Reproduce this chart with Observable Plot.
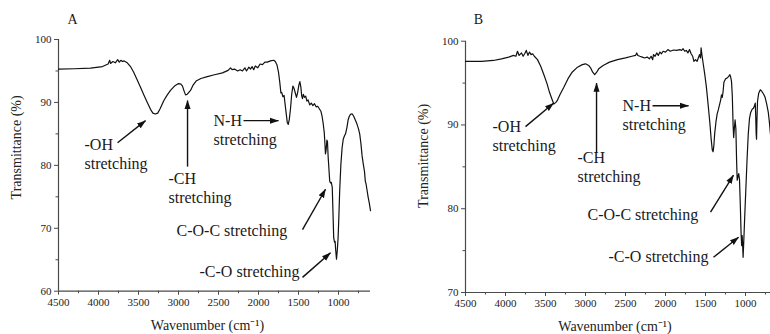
<!DOCTYPE html>
<html>
<head>
<meta charset="utf-8">
<script src="https://cdn.jsdelivr.net/npm/d3@7"></script>
<script src="https://cdn.jsdelivr.net/npm/@observablehq/plot@0.6"></script>
<style>
  html, body { margin: 0; padding: 0; background: #fff; }
  #wrap { display: flex; width: 770px; height: 334px; overflow: hidden; }
  #wrap svg { display: block; font-family: "Liberation Serif", "Times New Roman", Times, serif !important; }
  #wrap svg text { font-family: "Liberation Serif", "Times New Roman", Times, serif !important; }
</style>
</head>
<body>
<div id="wrap"></div>
<script>
// ---------- data ----------
const panelLetters = ["A", "B"];
const xMajorTicks = [4500, 4000, 3500, 3000, 2500, 2000, 1500, 1000];
const xMinorTicks = [4250, 3750, 3250, 2750, 2250, 1750, 1250, 750];
const yMajorTicksA = [60, 70, 80, 90, 100];
const yMinorTicksA = [65, 75, 85, 95];
const yMajorTicksB = [70, 80, 90, 100];
const yMinorTicksB = [75, 85, 95];
const xAxisTitle = "Wavenumber (cm\u207B\u00B9)";
const yAxisTitle = "Transmittance (%)";

const wavenumberA = [4500,4300,4100,3950,3880,3860,3850,3820,3790,3760,3740,3720,3700,3680,3640,3600,3560,3520,3475,3430,3390,3350,3320,3290,3260,3230,3183,3140,3100,3050,3000,2970,2950,2930,2912,2890,2871,2850,2820,2780,2720,2640,2550,2450,2380,2350,2330,2300,2260,2230,2200,2170,2150,2120,2100,2080,2060,2040,2010,1980,1950,1920,1890,1850,1810,1790,1770,1750,1735,1720,1710,1695,1680,1660,1640,1628,1615,1600,1585,1570,1555,1540,1525,1510,1495,1483,1470,1460,1450,1440,1425,1410,1395,1380,1360,1340,1320,1300,1280,1260,1240,1220,1205,1190,1178,1170,1163,1155,1145,1138,1130,1120,1110,1100,1090,1078,1070,1060,1050,1042,1035,1025,1015,1005,995,985,970,955,940,925,912,895,880,865,850,830,810,790,770,750,735,720,705,690,675,665,655,645,630,615,600];
const transmittanceA = [95.3,95.35,95.45,95.7,96.1,96.7,96.2,96.5,96.3,96.8,96.4,96.7,96.5,96.6,96.3,95.7,94.8,93.7,92.4,91.1,90.0,88.9,88.3,88.15,88.3,89.0,90.3,91.2,91.9,92.6,93.0,92.9,92.6,91.8,91.2,91.3,91.6,91.9,92.7,93.4,93.8,94.1,94.4,94.7,95.1,95.5,95.2,95.3,95.0,95.2,95.0,95.5,95.0,95.6,95.3,95.7,95.2,95.8,95.5,96.1,96.0,96.4,96.4,96.6,96.7,96.5,96.0,94.8,93.3,91.5,91.6,90.9,91.1,88.9,86.8,86.5,87.3,89.0,91.3,92.6,92.2,91.5,90.8,91.6,92.8,93.3,92.4,91.0,90.6,91.3,90.8,91.0,90.2,90.4,89.6,89.9,89.5,89.8,89.3,89.4,89.0,88.6,87.8,86.5,85.2,83.5,81.8,82.4,84.0,83.8,81.5,79.5,77.5,77.2,77.3,76.5,73.0,68.5,67.8,67.9,66.5,65.1,66.5,68.5,72.0,76.0,80.2,82.8,84.2,84.7,85.0,86.0,87.2,87.8,88.1,88.2,87.8,87.2,86.6,85.8,85.0,83.5,81.5,80.2,79.0,77.5,77.0,76.2,75.0,74.0,72.8];

const wavenumberB = [4500,4300,4150,4050,3960,3900,3870,3850,3830,3800,3780,3760,3740,3720,3700,3680,3660,3640,3600,3560,3520,3480,3450,3420,3396,3370,3354,3320,3271,3220,3167,3100,3040,3000,2960,2935,2910,2885,2860,2835,2780,2700,2600,2500,2420,2375,2360,2345,2320,2290,2260,2230,2200,2180,2160,2150,2130,2110,2090,2070,2050,2030,2000,1970,1940,1900,1860,1820,1800,1780,1760,1740,1720,1700,1680,1660,1645,1625,1605,1590,1575,1562,1555,1545,1530,1510,1490,1475,1460,1445,1430,1415,1405,1395,1385,1370,1355,1340,1325,1310,1300,1290,1280,1270,1250,1230,1210,1195,1185,1175,1165,1155,1148,1140,1130,1120,1112,1104,1095,1085,1075,1065,1055,1048,1042,1036,1030,1022,1010,995,980,965,950,935,915,900,888,878,872,867,862,857,850,835,815,795,775,755,735,715,700,688];
const transmittanceB = [97.6,97.6,97.7,97.9,98.1,98.3,98.2,98.8,98.3,98.6,98.2,98.5,98.9,98.3,98.7,98.4,98.5,98.2,97.8,97.0,96.0,94.9,93.9,93.1,92.5,92.7,92.9,93.6,94.5,95.5,96.3,96.9,97.2,97.3,97.1,96.8,96.3,96.0,96.3,96.7,97.1,97.5,97.8,98.0,98.2,98.3,98.6,98.3,98.2,98.1,98.0,98.1,97.9,98.2,97.8,98.4,98.2,98.6,98.3,98.7,98.5,98.8,98.7,99.0,98.8,98.95,98.9,99.0,98.9,99.1,98.8,98.9,98.6,99.0,98.5,98.2,97.6,97.8,97.6,98.0,98.4,98.0,99.2,98.4,97.4,96.1,94.6,93.2,91.7,90.2,88.4,87.0,86.8,87.6,89.0,90.3,91.3,91.8,92.4,93.0,93.6,93.3,94.0,95.1,95.5,95.6,95.8,96.0,95.7,95.2,93.5,90.0,88.5,89.5,90.6,89.5,86.0,83.4,83.8,84.2,83.5,80.5,77.0,75.6,76.8,75.8,74.2,76.0,79.0,82.5,86.0,89.0,90.8,91.5,91.9,92.0,92.3,92.6,91.0,89.0,88.3,90.5,92.8,93.8,94.2,94.0,93.7,93.3,92.5,91.5,90.2,88.9];

// annotation labels (wavenumber, transmittance of the top-left of each label)
const noteTextA = ["-OH\nstretching", "-CH\nstretching", "N-H\nstretching", "C-O-C stretching", "-C-O stretching"];
const noteXA = [4175, 3125, 2562, 3025, 2737];
const noteYA = [84.7, 79.3, 88.5, 70.9, 64.4];
const arrowX1A = [3762, 2887, 2187, 1450, 1450];
const arrowY1A = [83.6, 79.8, 87.1, 69.8, 62.2];
const arrowX2A = [3412, 2887, 1750, 1162, 1100];
const arrowY2A = [87.1, 90.3, 87.1, 76.2, 66.1];

const noteTextB = ["-OH\nstretching", "-CH\nstretching", "N-H\nstretching", "C-O-C stretching", "-C-O stretching"];
const noteXB = [4162, 3100, 2537, 2975, 2712];
const noteYB = [90.85, 87.15, 93.35, 80.25, 75.25];
const arrowX1B = [3750, 2862, 2162, 1437, 1400];
const arrowY1B = [89.8, 86.7, 92.3, 79.6, 74.2];
const arrowX2B = [3400, 2862, 1712, 1150, 1087];
const arrowY2B = [92.6, 95.0, 92.3, 84.0, 76.6];

// ---------- drawing ----------
const FONT = "Liberation Serif";
const AXIS = "#4a4a4a";

function filledArrow(color, ctx) {
  const doc = ctx && ctx.document ? ctx.document : (ctx && ctx.createElementNS ? ctx : document);
  const ns = "http://www.w3.org/2000/svg";
  const m = doc.createElementNS(ns, "marker");
  m.setAttribute("viewBox", "-5 -5 10 10");
  m.setAttribute("markerUnits", "userSpaceOnUse");
  m.setAttribute("markerWidth", 9);
  m.setAttribute("markerHeight", 9);
  m.setAttribute("refX", 4.5);
  m.setAttribute("refY", 0);
  m.setAttribute("orient", "auto");
  const p = doc.createElementNS(ns, "path");
  p.setAttribute("d", "M-5,-3.4L5,0L-5,3.4Z");
  p.setAttribute("fill", color);
  p.setAttribute("stroke", "none");
  m.appendChild(p);
  return m;
}

function arrowMark(data) {
  try {
    return Plot.link(data, {x1: "x1", y1: "y1", x2: "x2", y2: "y2", stroke: "#111", strokeWidth: 1.4, markerEnd: filledArrow});
  } catch (e) {
    return Plot.arrow(data, {x1: "x1", y1: "y1", x2: "x2", y2: "y2", stroke: "#111", strokeWidth: 1.6, headLength: 8, headAngle: 50});
  }
}

const fmt = d => String(d);

function panel(o) {
  const spectrum = o.wn.map((w, i) => ({w, t: o.tr[i]}));
  const notes = o.noteText.map((text, i) => ({text, x: o.noteX[i], y: o.noteY[i]}));
  const arrows = o.ax1.map((x1, i) => ({x1, y1: o.ay1[i], x2: o.ax2[i], y2: o.ay2[i]}));
  return Plot.plot({
    width: 385,
    height: 334,
    marginLeft: o.marginLeft,
    marginRight: o.marginRight,
    marginTop: o.marginTop,
    marginBottom: o.marginBottom,
    style: {fontFamily: FONT, fontSize: "11px", background: "#fff", color: "#222", overflow: "visible"},
    x: {domain: o.xDomain},
    y: {domain: o.yDomain},
    marks: [
      Plot.axisX(xMajorTicks, {tickSize: 4, tickPadding: 3, tickFormat: fmt, stroke: AXIS, fill: "#222", fontSize: 11, fontFamily: FONT, label: null}),
      Plot.axisX(xMinorTicks, {tickSize: 2.5, tickFormat: () => "", stroke: AXIS, label: null}),
      Plot.axisY(o.yMajor, {tickSize: 4, tickPadding: 3, tickFormat: fmt, stroke: AXIS, fill: "#222", fontSize: 11, fontFamily: FONT, label: null}),
      Plot.axisY(o.yMinor, {tickSize: 2.5, tickFormat: () => "", stroke: AXIS, label: null}),
      Plot.ruleX([o.xDomain[0]], {stroke: AXIS, strokeWidth: 1.2}),
      Plot.ruleY([o.yDomain[0]], {stroke: AXIS, strokeWidth: 1.2}),
      Plot.line(spectrum, {x: "w", y: "t", stroke: "#111", strokeWidth: 1.2, curve: "linear"}),
      Plot.text(notes, {x: "x", y: "y", text: "text", textAnchor: "start", lineAnchor: "top", fontSize: 16, lineHeight: 1.22, fontFamily: FONT, fill: "#1a1a1a"}),
      arrowMark(arrows),
      Plot.text([o.letter], {frameAnchor: "top-left", dx: o.letterDx, dy: o.letterDy, fontSize: 14, fontFamily: FONT, textAnchor: "middle", lineAnchor: "middle", fill: "#1a1a1a"}),
      Plot.text([xAxisTitle], {frameAnchor: "bottom", dx: o.xlabDx, dy: 34, fontSize: 14, fontFamily: FONT, lineAnchor: "middle", fill: "#222"}),
      Plot.text([yAxisTitle], {frameAnchor: "left", dx: o.ylabDx, dy: o.ylabDy, rotate: -90, fontSize: 14, fontFamily: FONT, lineAnchor: "middle", textAnchor: "middle", fill: "#222"})
    ]
  });
}

const wrap = document.getElementById("wrap");
wrap.appendChild(panel({
  wn: wavenumberA, tr: transmittanceA,
  xDomain: [4500, 600], yDomain: [60, 100],
  yMajor: yMajorTicksA, yMinor: yMinorTicksA,
  marginLeft: 58, marginRight: 15, marginTop: 39, marginBottom: 43.3,
  noteText: noteTextA, noteX: noteXA, noteY: noteYA,
  ax1: arrowX1A, ay1: arrowY1A, ax2: arrowX2A, ay2: arrowY2A,
  letter: panelLetters[0], letterDx: 14, letterDy: -20,
  xlabDx: -7, ylabDx: -42, ylabDy: -18
}));
wrap.appendChild(panel({
  wn: wavenumberB, tr: transmittanceB,
  xDomain: [4500, 687.5], yDomain: [70, 100],
  yMajor: yMajorTicksB, yMinor: yMinorTicksB,
  marginLeft: 80, marginRight: 0, marginTop: 40.7, marginBottom: 42,
  noteText: noteTextB, noteX: noteXB, noteY: noteYB,
  ax1: arrowX1B, ay1: arrowY1B, ax2: arrowX2B, ay2: arrowY2B,
  letter: panelLetters[1], letterDx: 13, letterDy: -22,
  xlabDx: -3, ylabDx: -42, ylabDy: -11
}));
</script>
</body>
</html>
